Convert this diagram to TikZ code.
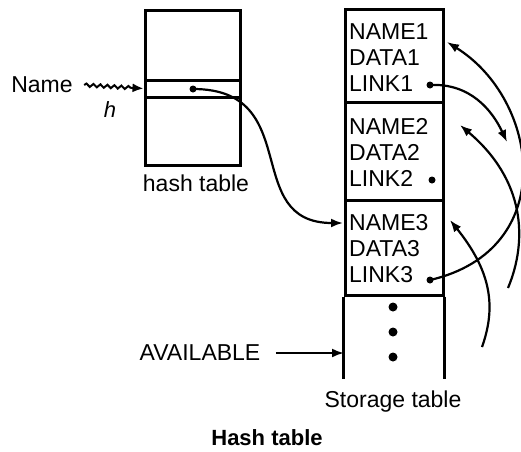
\documentclass[tikz,border=0pt]{standalone}
\usepackage{fontspec}
\setmainfont{Liberation Sans}
\usetikzlibrary{arrows.meta}
\usetikzlibrary{decorations.pathmorphing}

\begin{document}
\begin{tikzpicture}[x=1pt,y=-1pt,every node/.style={font=\fontsize{23}{27}\selectfont}]

            \tikzstyle{cell} = [draw, line width=3pt, inner sep=0pt, minimum width=95pt];
            \tikzstyle{block} = [draw, line width=3pt, inner sep=0pt, minimum width=98pt];
            \tikzstyle{entry} = [anchor=west, inner sep=0pt];
            \tikzstyle{dot} = [circle, fill, inner sep=0pt, minimum size=7pt];
            \tikzstyle{link} = [line width=2.2pt, -{Latex[length=12pt,width=9pt]}];

            \useasboundingbox (0,0) rectangle (521,451);

            % hash table
            \node[cell, minimum height=70pt] (htop) at (192.5,45) {};
            \node[cell, minimum height=17pt] (slot) at (192.5,88.5) {};
            \node[cell, minimum height=68pt] (hbot) at (192.5,131) {};
            \node[dot] (hdot) at (193,89) {};
            \node (hlabel) at (196,183) {hash table};

            \node (name) at (42,85) {Name};
            \node[font=\fontsize{22}{26}\selectfont\itshape] (h) at (110,110) {h};

            % storage table
            \node[block, minimum height=93pt] (blk1) at (394,55.5) {};
            \node[block, minimum height=98pt] (blk2) at (394,151) {};
            \node[block, minimum height=95pt] (blk3) at (394,247.5) {};
            \draw[line width=3pt] (blk3.south west) -- ++(0,82);
            \draw[line width=3pt] (blk3.south east) -- ++(0,82);

            \node[entry] (name1) at (349,32) {NAME1};
            \node[entry] (data1) at (349,58) {DATA1};
            \node[entry] (link1) at (349,84) {LINK1};
            \node[entry] (name2) at (349,126) {NAME2};
            \node[entry] (data2) at (349,152) {DATA2};
            \node[entry] (link2) at (349,178) {LINK2};
            \node[entry] (name3) at (349,223) {NAME3};
            \node[entry] (data3) at (349,249) {DATA3};
            \node[entry] (link3) at (349,275) {LINK3};

            \node[dot] (ldot1) at (430,85) {};
            \node[dot] (ldot2) at (432,180) {};
            \node[dot] (ldot3) at (430,280) {};

            \node[dot, minimum size=9pt] (more1) at (393,307) {};
            \node[dot, minimum size=9pt] (more2) at (393,332) {};
            \node[dot, minimum size=9pt] (more3) at (393,357) {};

            \node (avail) at (200,353) {AVAILABLE};
            \node (slabel) at (393,402) {Storage table};
            \node[font=\fontsize{22}{26}\selectfont\bfseries] (caption) at (267,438) {Hash table};

            % arrow ends
            \coordinate (in3) at (343,223);
            \coordinate (wall) at (344,353);
            \coordinate (tip1) at (447,42);
            \coordinate (tip2) at (460,125);
            \coordinate (tip3) at (450,220);
            \coordinate (out1) at (507,142);
            \coordinate (free2) at (508,288);
            \coordinate (free3) at (482,347);

            \draw[line width=2pt, decorate,
                  decoration={snake, amplitude=1.6pt, segment length=7pt, post length=10pt},
                  -{Latex[length=11pt,width=9pt]}] ([xshift=8pt]name.east) -- (slot.west);
            \draw[link] (hdot.center) .. controls (305,89) and (240,223) .. (in3);
            \draw[link] ([xshift=12pt]avail.east) -- (wall);

            \draw[link] (ldot1.center) .. controls (470,83) and (492,110) .. (out1);
            \draw[link] (ldot3.center) .. controls (560,250) and (540,100) .. (tip1);
            \draw[link] (free2) .. controls (528,240) and (525,180) .. (tip2);
            \draw[link] (free3) .. controls (497,305) and (490,270) .. (tip3);
          \end{tikzpicture}
\end{document}
